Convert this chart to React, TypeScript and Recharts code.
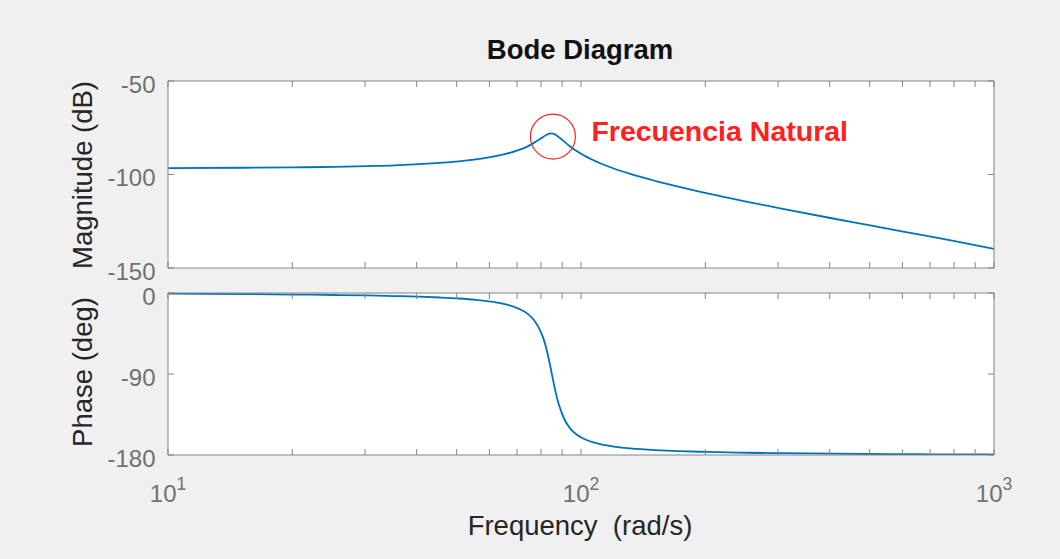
import React from 'react';
import { LineChart, Line, XAxis, YAxis, CartesianGrid, ReferenceDot } from 'recharts';

// values (rad/s, dB, deg)
const frequency = [
  10, 15.2, 20.2, 25.3, 30.4, 35.4, 40.5, 45.5, 50.6, 55.7, 60.7, 65.8, 70.8, 73.9,
  76.9, 78.9, 81, 82, 83, 84, 85, 86, 87, 88, 89.1, 91.1, 94.1, 97.2, 101.2, 106.3,
  111.3, 121.4, 131.6, 151.8, 172, 202.4, 253, 303.6, 404.8, 506, 607.2, 708.4, 809.6, 1000,
];
const magnitudeDb = [
  -96.6, -96.4, -96.2, -95.9, -95.5, -95.1, -94.5, -93.8, -93.0, -91.9, -90.6, -89.0, -86.8, -85.2,
  -83.1, -81.6, -79.9, -79.1, -78.5, -78.1, -78.0, -78.3, -78.9, -79.7, -80.6, -82.4, -85.0, -87.2,
  -89.6, -92.0, -94.0, -97.2, -99.7, -103.5, -106.5, -110.1, -114.6, -118.1, -123.4, -127.4,
  -130.7, -133.4, -135.8, -139.8,
];
const phaseDeg = [
  -0.8, -1.2, -1.7, -2.2, -2.7, -3.4, -4.1, -5.0, -6.1, -7.6, -9.6, -12.6, -17.6, -22.4,
  -30.0, -38.0, -49.9, -57.9, -67.5, -78.3, -90.0, -101.5, -112.1, -121.2, -128.7, -140.0,
  -150.4, -156.6, -161.7, -165.5, -168.0, -171.0, -172.7, -174.6, -175.7, -176.6, -177.5,
  -178.0, -178.5, -178.9, -179.1, -179.2, -179.3, -179.4,
];

const magTicks = [-150, -100, -50];
const phaseTicks = [-180, -90, 0];
const freqTicks = [10, 20, 30, 40, 50, 60, 70, 80, 90, 100, 200, 300, 400, 500, 600, 700, 800, 900, 1000];
const decadeExp: Record<number, string> = { 10: '1', 100: '2', 1000: '3' };

const peak = { f: 85.5, db: -79.7, note: 'Frecuencia Natural' };

const data = frequency.map((f, i) => ({ f, mag: magnitudeDb[i], phase: phaseDeg[i] }));

const W = 1060;
const H = 559;
const LEFT = 168;
const RIGHT = 994;
const MAG_TOP = 81;
const MAG_BOTTOM = 268;
const PH_TOP = 293;
const PH_BOTTOM = 455;
const TICK = 6;
const FRAME = '#858585';
const TICK_TEXT = '#707070';
const LABEL = '#262626';
const BLUE = '#0072BD';
const RED = '#ff2020';
const FONT = '"Liberation Sans", Arial, Helvetica, sans-serif';

const xTick = (edgeY: number, dir: number, labels: boolean) => (props: any) => {
  const { x, payload } = props;
  const exp = decadeExp[payload.value];
  return (
    <g>
      <line x1={x} x2={x} y1={edgeY} y2={edgeY + dir * TICK} stroke={FRAME} />
      {labels && exp && (
        <text x={x} y={502} textAnchor="middle" fontSize={24} fill={TICK_TEXT} fontFamily={FONT}>
          10
          <tspan dy={-12} fontSize={17.5}>
            {exp}
          </tspan>
        </text>
      )}
    </g>
  );
};

const yTick = (edgeX: number, dir: number, labels: boolean) => (props: any) => {
  const { y, payload } = props;
  return (
    <g>
      <line x1={edgeX} x2={edgeX + dir * TICK} y1={y} y2={y} stroke={FRAME} />
      {labels && (
        <text x={155.5} y={y + 11.5} textAnchor="end" fontSize={24} fill={TICK_TEXT} fontFamily={FONT}>
          {payload.value}
        </text>
      )}
    </g>
  );
};

const renderNote = (props: any) => {
  const vb = props.viewBox || {};
  const x = (vb.x ?? 529) + (vb.width ?? 45) + 16;
  const y = (vb.y ?? 114) + (vb.height ?? 45) / 2;
  return (
    <text x={x} y={y + 4} fontSize={28.5} fontWeight="bold" fill={RED} fontFamily={FONT}>
      {peak.note}
    </text>
  );
};

function Panel({
  dataKey,
  top,
  bottom,
  domain,
  yTicks,
  showFreqLabels,
  children,
}: {
  dataKey: string;
  top: number;
  bottom: number;
  domain: [number, number];
  yTicks: number[];
  showFreqLabels: boolean;
  children?: React.ReactNode;
}) {
  return (
    <div style={{ position: 'absolute', left: 0, top: 0 }}>
      <LineChart
        width={W}
        height={H}
        data={data}
        margin={{ top: top - 10, bottom: H - bottom - 10, left: LEFT - 10, right: W - RIGHT - 10 }}
      >
        <CartesianGrid xAxisId="b" yAxisId="l" fill="#ffffff" horizontal={false} vertical={false} />
        <XAxis
          xAxisId="b"
          dataKey="f"
          type="number"
          scale="log"
          domain={[10, 1000]}
          ticks={freqTicks}
          interval={0}
          height={10}
          allowDataOverflow
          axisLine={{ stroke: FRAME }}
          tickLine={false}
          tick={xTick(bottom, -1, showFreqLabels)}
        />
        <XAxis
          xAxisId="t"
          dataKey="f"
          orientation="top"
          type="number"
          scale="log"
          domain={[10, 1000]}
          ticks={freqTicks}
          interval={0}
          height={10}
          allowDataOverflow
          axisLine={{ stroke: FRAME }}
          tickLine={false}
          tick={xTick(top, 1, false)}
        />
        <YAxis
          yAxisId="l"
          type="number"
          domain={domain}
          ticks={yTicks}
          interval={0}
          width={10}
          allowDataOverflow
          axisLine={{ stroke: FRAME }}
          tickLine={false}
          tick={yTick(LEFT, 1, true)}
        />
        <YAxis
          yAxisId="r"
          orientation="right"
          type="number"
          domain={domain}
          ticks={yTicks}
          interval={0}
          width={10}
          allowDataOverflow
          axisLine={{ stroke: FRAME }}
          tickLine={false}
          tick={yTick(RIGHT, -1, false)}
        />
        <Line
          xAxisId="b"
          yAxisId="l"
          type="monotone"
          dataKey={dataKey}
          stroke={BLUE}
          strokeWidth={1.8}
          dot={false}
          isAnimationActive={false}
        />
        {children}
      </LineChart>
    </div>
  );
}

export default function App() {
  return (
    <div
      style={{
        position: 'absolute',
        left: 0,
        top: 0,
        width: W,
        height: H,
        background: '#f0f0f0',
        overflow: 'hidden',
        fontFamily: FONT,
      }}
    >
      <Panel dataKey="mag" top={MAG_TOP} bottom={MAG_BOTTOM} domain={[-150, -50]} yTicks={magTicks} showFreqLabels={false}>
        <ReferenceDot
          xAxisId="b"
          yAxisId="l"
          x={peak.f}
          y={peak.db}
          r={22.5}
          fill="none"
          stroke={RED}
          strokeWidth={1.2}
          label={renderNote}
        />
      </Panel>
      <Panel dataKey="phase" top={PH_TOP} bottom={PH_BOTTOM} domain={[-180, 0]} yTicks={phaseTicks} showFreqLabels />
      <svg width={W} height={H} style={{ position: 'absolute', left: 0, top: 0, pointerEvents: 'none' }}>
        <text x={580} y={59} textAnchor="middle" fontSize={27.5} fontWeight="bold" fill="#111" fontFamily={FONT}>
          Bode Diagram
        </text>
        <text
          transform="translate(92,175) rotate(-90)"
          textAnchor="middle"
          fontSize={27.5}
          fill={LABEL}
          fontFamily={FONT}
        >
          Magnitude (dB)
        </text>
        <text
          transform="translate(92,372) rotate(-90)"
          textAnchor="middle"
          fontSize={27.5}
          fill={LABEL}
          fontFamily={FONT}
        >
          Phase (deg)
        </text>
        <text x={580} y={535} textAnchor="middle" fontSize={27.5} fill={LABEL} fontFamily={FONT} xmlSpace="preserve">
          Frequency  (rad/s)
        </text>
      </svg>
    </div>
  );
}
